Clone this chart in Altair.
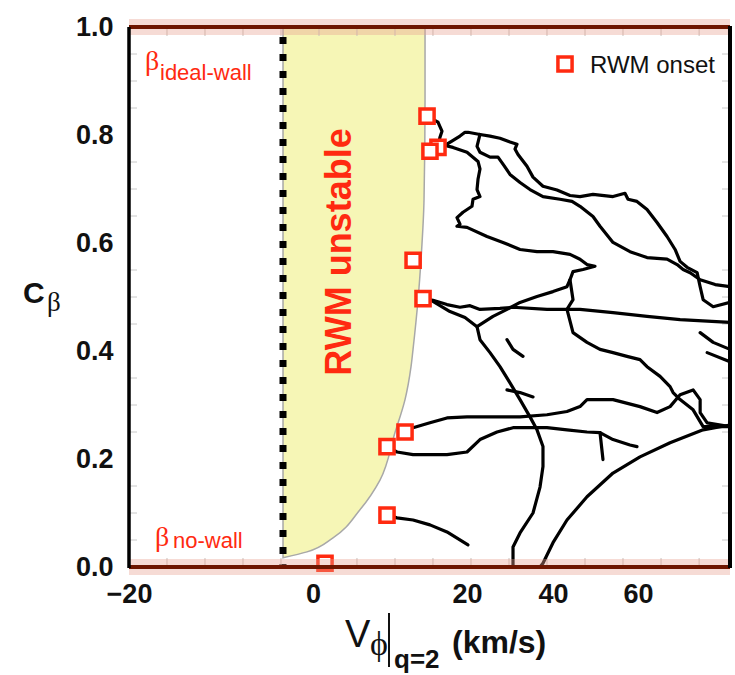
import altair as alt
import pandas as pd

# ---------------- data ----------------
x_ticks = [-20, 0, 20, 40, 60]
y_ticks = [0.0, 0.2, 0.4, 0.6, 0.8, 1.0]
x_minor = [-15.87, -11.74, -7.61, -3.48, 0.78, 5.71, 10.65, 15.58, 20.93, 29.77, 38.60, 47.53, 56.47, 65.41, 74.35]
y_minor = [0.05, 0.1, 0.15, 0.25, 0.3, 0.35, 0.45, 0.5, 0.55, 0.65, 0.7, 0.75, 0.85, 0.9, 0.95]

ideal_wall_line = [0.0, 1.0]
wall_v = -3.26

unstable_c = [1.0, 0.866, 0.681, 0.570, 0.495, 0.403, 0.371, 0.310, 0.249, 0.161, 0.106, 0.054, 0.028, 0.017]
unstable_v = [14.55, 14.55, 14.42, 14.03, 13.64, 12.99, 12.73, 11.95, 10.65, 8.70, 6.10, 2.60, -0.65, -3.26]

onset_v = [14.81, 16.23, 15.19, 13.0, 14.29, 11.95, 9.61, 9.61, 1.56]
onset_c = [0.835, 0.777, 0.770, 0.568, 0.497, 0.250, 0.223, 0.096, 0.007]

t1_v = [14.81, 16.23, 16.75, 16.49, 16.23]
t1_c = [0.835, 0.824, 0.807, 0.796, 0.777]

t2_v = [16.23, 17.40, 19.09, 19.74, 20.23, 23.02, 25.35, 27.67, 30.00, 31.63, 31.16, 31.86, 33.95, 35.35, 37.67,
        40.94, 44.00, 46.35, 49.41, 54.12, 56.94, 57.65, 59.76, 62.12, 64.47, 66.82, 68.71, 69.88, 71.53, 73.88,
        74.59, 75.29, 77.65, 81.6]
t2_c = [0.777, 0.783, 0.798, 0.805, 0.805, 0.801, 0.798, 0.794, 0.787, 0.783, 0.774, 0.764, 0.742, 0.722, 0.705,
        0.698, 0.688, 0.686, 0.690, 0.686, 0.692, 0.681, 0.677, 0.662, 0.638, 0.612, 0.588, 0.566, 0.555, 0.545,
        0.519, 0.495, 0.482, 0.490]

t3_v = [23.02, 22.33, 23.02, 25.35, 27.21, 28.37, 30.00, 32.33, 34.65, 37.67, 41.65, 44.47, 46.35, 49.41, 51.06,
        54.12, 58.12, 62.12, 66.82, 69.18, 70.59, 72.24, 74.59, 78.12, 81.6]
t3_c = [0.801, 0.779, 0.768, 0.759, 0.759, 0.746, 0.727, 0.712, 0.699, 0.686, 0.681, 0.677, 0.668, 0.649, 0.631,
        0.601, 0.584, 0.573, 0.570, 0.560, 0.551, 0.545, 0.532, 0.523, 0.519]

t4_v = [16.49, 18.18, 20.00, 22.56, 23.02, 22.56, 22.33, 23.02, 21.40, 21.16, 19.48, 18.70, 19.09, 18.70, 20.00,
        24.65, 28.37, 32.33, 36.28, 40.00, 44.00, 46.35, 48.00, 49.88, 47.06, 44.71, 44.00, 43.29, 40.00, 36.28,
        32.33, 29.30, 26.05, 22.33, 23.02, 25.35, 27.67, 30.00, 32.33, 34.65, 36.28, 37.67, 37.67, 36.98, 35.35,
        32.33, 30.70, 30.70]
t4_c = [0.783, 0.777, 0.768, 0.751, 0.737, 0.718, 0.699, 0.686, 0.681, 0.668, 0.657, 0.647, 0.635, 0.631, 0.629,
        0.612, 0.601, 0.588, 0.584, 0.584, 0.579, 0.570, 0.560, 0.557, 0.551, 0.547, 0.532, 0.519, 0.510, 0.501,
        0.490, 0.477, 0.464, 0.445, 0.421, 0.397, 0.371, 0.341, 0.310, 0.278, 0.254, 0.223, 0.186, 0.148, 0.100,
        0.063, 0.037, 0.0]

t5_v = [14.29, 15.58, 17.40, 19.09, 20.70, 23.02, 27.67, 30.70, 38.60, 46.35, 54.12, 62.12, 69.88, 81.6]
t5_c = [0.497, 0.494, 0.486, 0.481, 0.484, 0.477, 0.479, 0.481, 0.477, 0.477, 0.471, 0.464, 0.458, 0.453]

t5b_v = [15.58, 17.79, 19.74, 22.33]
t5b_c = [0.492, 0.473, 0.462, 0.445]

t6_v = [11.95, 12.99, 15.19, 17.40, 20.00, 23.02, 26.98, 32.33, 38.60, 43.29, 46.35, 48.00, 54.12, 60.47, 64.47,
        67.53, 69.88, 72.94, 74.59, 74.59, 76.24, 81.6]
t6_c = [0.250, 0.258, 0.267, 0.276, 0.278, 0.278, 0.278, 0.278, 0.282, 0.288, 0.297, 0.310, 0.310, 0.297, 0.286,
        0.297, 0.319, 0.328, 0.310, 0.286, 0.267, 0.260]

t7_v = [9.61, 10.91, 12.99, 17.40, 20.00, 23.02, 26.98, 30.70, 34.65, 38.60, 43.29, 48.00, 51.06, 54.12, 58.12, 59.76]
t7_c = [0.223, 0.213, 0.208, 0.208, 0.213, 0.236, 0.250, 0.258, 0.258, 0.258, 0.254, 0.250, 0.249, 0.236, 0.226, 0.223]

t7b_v = [51.06, 51.76]
t7b_c = [0.249, 0.199]

t8_v = [9.61, 10.91, 12.99, 15.19, 17.40, 20.23]
t8_c = [0.096, 0.091, 0.087, 0.078, 0.065, 0.041]

t9_v = [36.98, 37.67, 40.00, 43.29, 48.00, 54.12, 60.47, 67.53, 75.29, 81.6]
t9_c = [0.0, 0.007, 0.045, 0.087, 0.130, 0.174, 0.204, 0.230, 0.254, 0.263]

t10_v = [44.00, 44.71, 43.29, 44.71, 48.00, 51.06, 54.12, 57.41, 60.47, 62.12, 65.18, 67.53, 68.24, 69.88, 72.94,
         75.29, 81.6]
t10_c = [0.532, 0.495, 0.477, 0.434, 0.416, 0.403, 0.397, 0.390, 0.384, 0.371, 0.353, 0.334, 0.323, 0.310, 0.291,
         0.260, 0.260]

t11_v = [74.59, 77.65, 81.6]
t11_c = [0.434, 0.416, 0.403]
t12_v = [76.24, 81.6]
t12_c = [0.397, 0.380]
t13_v = [29.30, 30.70, 33.02]
t13_c = [0.421, 0.403, 0.390]
t14_v = [29.30, 32.33, 35.35]
t14_c = [0.328, 0.323, 0.315]

# ---------------- tables ----------------
trajs = [(t1_v, t1_c), (t2_v, t2_c), (t3_v, t3_c), (t4_v, t4_c), (t5_v, t5_c), (t5b_v, t5b_c),
         (t6_v, t6_c), (t7_v, t7_c), (t7b_v, t7b_c), (t8_v, t8_c), (t9_v, t9_c), (t10_v, t10_c),
         (t11_v, t11_c), (t12_v, t12_c), (t13_v, t13_c), (t14_v, t14_c)]
rows = []
for k, (vs, cs) in enumerate(trajs):
    for i, (v, c) in enumerate(zip(vs, cs)):
        rows.append({"traj": k, "i": i, "v": v, "c": c})
lines_df = pd.DataFrame(rows)
area_df = pd.DataFrame({"c": unstable_c, "v": unstable_v, "v2": [wall_v] * len(unstable_c)})
onset_df = pd.DataFrame({"v": onset_v, "c": onset_c})
hline_df = pd.DataFrame({"c": ideal_wall_line})
wall_df = pd.DataFrame({"v": [wall_v]})
xminor_df = pd.DataFrame({"v": x_minor})
yminor_df = pd.DataFrame({"c": y_minor})
one = pd.DataFrame({"k": [0]})

RED = "#ff2a10"
SANS = "Liberation Sans, Arial, Helvetica, sans-serif"
SERIF = "Liberation Serif, Times New Roman, serif"

W, H = 601, 540
xscale = alt.Scale(domain=[-20, 0, 20, 40, 60, 81.6], range=[0, 184, 338, 424, 509, 601], nice=False, zero=False)
yscale = alt.Scale(domain=[0, 1], nice=False, zero=False)
xaxis = alt.Axis(values=x_ticks, title=None, ticks=False, domain=False, grid=False, labelFlush=False,
                 labelOverlap=False, labelFont=SANS, labelFontSize=27, labelFontWeight="bold",
                 labelColor="#111", labelPadding=14)
yaxis = alt.Axis(values=y_ticks, format=".1f", title=None, ticks=False, domain=False, grid=False,
                 labelFlush=False, labelOverlap=False, labelFont=SANS, labelFontSize=27,
                 labelFontWeight="bold", labelColor="#111", labelPadding=16)


def X(f="v"):
    return alt.X(f"{f}:Q", scale=xscale, axis=xaxis)


def Y(f="c"):
    return alt.Y(f"{f}:Q", scale=yscale, axis=yaxis)


area = alt.Chart(area_df).mark_area(orient="horizontal", color="#f6f6b6", stroke="#a8a8a8",
                                    strokeWidth=1.5, clip=True, interpolate="monotone").encode(
    y=Y(), x=X(), x2="v2:Q")

wall = alt.Chart(wall_df).mark_rule(color="black", strokeWidth=7, strokeDash=[7, 10],
                                    strokeDashOffset=-10).encode(x=X())

xminor_b = alt.Chart(xminor_df).mark_rule(color="#c9c0bc", strokeWidth=1).encode(
    x=X(), y=alt.value(H - 9), y2=alt.value(H))
xminor_t = alt.Chart(xminor_df).mark_rule(color="#c9c0bc", strokeWidth=1).encode(
    x=X(), y=alt.value(0), y2=alt.value(9))
yminor_l = alt.Chart(yminor_df).mark_rule(color="#c8c8c8", strokeWidth=1).encode(
    y=Y(), x=alt.value(0), x2=alt.value(8))
yminor_r = alt.Chart(yminor_df).mark_rule(color="#c8c8c8", strokeWidth=1).encode(
    y=Y(), x=alt.value(W - 8), x2=alt.value(W))

lines = alt.Chart(lines_df).mark_line(color="black", strokeWidth=3.2, strokeJoin="round",
                                      strokeCap="round", clip=True).encode(
    x=X(), y=Y(), detail="traj:N", order="i:Q")

onset = alt.Chart(onset_df).mark_point(shape="square", size=200, filled=False, fill="white",
                                       fillOpacity=1, color=RED, strokeWidth=3.5, opacity=1).encode(
    x=X(), y=Y())

halo = alt.Chart(hline_df).mark_rule(color="#e8a090", opacity=0.38, strokeWidth=16).encode(y=Y())
hline = alt.Chart(hline_df).mark_rule(color="#6e1600", strokeWidth=4).encode(y=Y())

left_border = alt.Chart(one).mark_rule(color="black", strokeWidth=3.5).encode(
    x=alt.value(0), y=alt.value(0), y2=alt.value(H + 1))
right_border = alt.Chart(one).mark_rule(color="black", strokeWidth=4).encode(
    x=alt.value(W), y=alt.value(-1), y2=alt.value(H + 1))


def txt(text, x, y, size, font=SANS, weight="normal", color="#111", align="left", baseline="alphabetic", angle=0):
    return alt.Chart(one).mark_text(text=text, font=font, fontSize=size, fontWeight=weight, color=color,
                                    align=align, baseline=baseline, angle=angle).encode(
        x=alt.value(x), y=alt.value(y))


texts = [
    txt("RWM unstable", 211, 225, 36, weight="bold", color=RED, align="center", baseline="middle", angle=270),
    txt("\u03b2", 16, 43, 28, font=SERIF, color=RED),
    txt("ideal-wall", 31, 53, 22, color=RED),
    txt("\u03b2", 26, 519, 28, font=SERIF, color=RED),
    txt("no-wall", 44, 521, 22, color=RED),
    txt("RWM onset", 461, 46, 24),
    # y title
    txt("C", -106, 276, 30, weight="bold"),
    txt("\u03b2", -82, 284, 27, font=SERIF),
    # x title
    txt("V", 216, 620, 38),
    txt("\u03d5", 241, 628, 34, font=SERIF),
    txt("q=2", 265, 641, 26, weight="bold"),
    txt("(km/s)", 323, 626, 32, weight="bold"),
]
bar = alt.Chart(one).mark_rule(color="#111", strokeWidth=2).encode(
    x=alt.value(260), y=alt.value(586), y2=alt.value(640))
legend_sq = alt.Chart(one).mark_point(shape="square", size=200, filled=False, fill="white", fillOpacity=1,
                                      color=RED, strokeWidth=3.5, opacity=1).encode(
    x=alt.value(436), y=alt.value(37))

chart = alt.layer(area, wall, xminor_b, xminor_t, yminor_l, yminor_r, lines, onset, halo, hline,
                  left_border, right_border, *texts, bar, legend_sq).properties(
    width=W, height=H,
    padding={"left": 129, "top": 27, "right": 5, "bottom": 108},
    autosize=alt.AutoSizeParams(type="none"),
).configure_view(stroke=None).configure(background="white")

chart.save("out.html", embed_options={"renderer": "svg", "actions": False})
